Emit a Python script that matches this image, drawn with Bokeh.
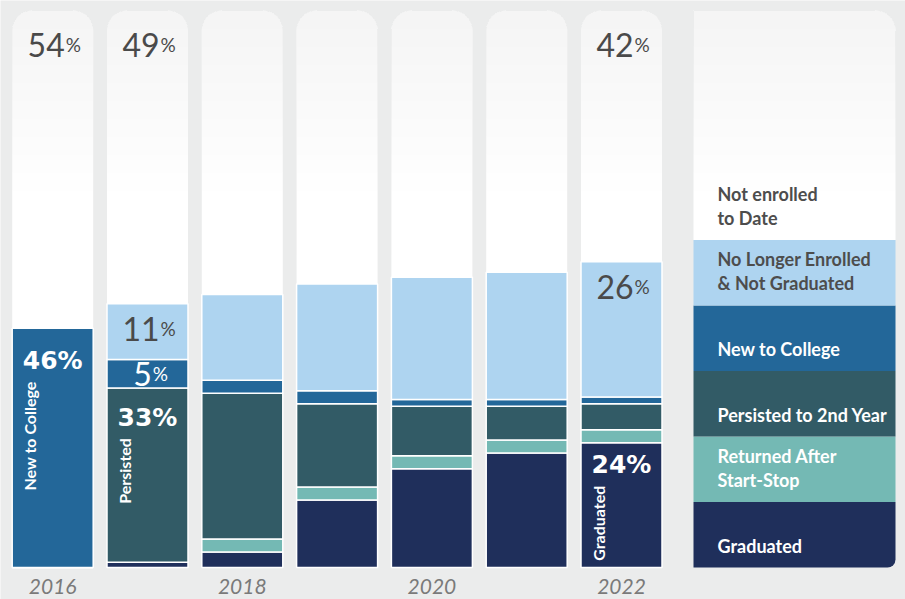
import numpy as np
from bokeh.plotting import figure
from bokeh.models import ColumnDataSource, Range1d
from bokeh.core.properties import value
from bokeh.embed import file_html
from bokeh.resources import INLINE

# ---------------- data (percent of cohort) ----------------
years = ["2016", "2017", "2018", "2019", "2020", "2021", "2022"]
graduated   = [0.0, 1.0, 3.0, 13.0, 19.0, 22.0, 24.0]
returned    = [0.0, 0.0, 2.5, 2.5, 2.5, 2.5, 2.5]
persisted   = [0.0, 33.5, 28.0, 16.0, 9.5, 6.5, 5.0]
new_college = [46.0, 5.5, 2.5, 2.5, 1.3, 1.3, 1.3]
no_longer   = [0.0, 10.7, 16.5, 20.5, 23.5, 24.5, 26.0]

series = ["graduated", "returned", "persisted", "new_college", "no_longer"]
legend_labels = ["Graduated", "Returned After\nStart-Stop", "Persisted to 2nd Year",
                 "New to College", "No Longer Enrolled\n& Not Graduated"]
not_enrolled_label = "Not enrolled\nto Date"
year_ticks = ["2016", "2018", "2020", "2022"]

# annotations shown on the chart
top_label_years = ["2016", "2017", "2022"]
top_label_vals = ["54", "49", "42"]
thin_label_years = ["2017", "2017", "2022"]
thin_label_series = ["no_longer", "new_college", "no_longer"]
thin_label_vals = ["11", "5", "26"]
bold_label_years = ["2016", "2017", "2022"]
bold_label_series = ["new_college", "persisted", "graduated"]
bold_label_vals = ["46%", "33%", "24%"]
bold_label_names = ["New to College", "Persisted", "Graduated"]

# ---------------- styling ----------------
colors = ["#1f2f5b", "#74b9b4", "#325b66", "#236799", "#aed4f0"]
legend_text_colors = ["white", "white", "white", "white", "#4d4d4d"]
BG = "#ebecec"
FONT = "Lato"
bold_dy_px = [32, 29, 22]     # label offset below the segment top
rot_dy_px = [53, 50, 43]      # rotated-name offset below the segment top

W, H = 905, 599
PX_Y = 5.2      # px per percent
PX_X = 94.8     # px per bar slot
BASE = 567      # baseline pixel row
x_start = -52.2 / PX_X
y_start = -(H - BASE) / PX_Y
y_end = BASE / PX_Y
TOP = (BASE - 10) / PX_Y
BW = 81 / PX_X

def dx(px):
    return px / PX_X

def dy(px):
    return px / PX_Y

p = figure(width=W, height=H, x_range=Range1d(x_start, x_start + W / PX_X),
           y_range=Range1d(y_start, y_end), output_backend="svg",
           toolbar_location=None, min_border=0,
           x_axis_location=None, y_axis_location=None)
p.grid.visible = False
p.outline_line_color = None
p.background_fill_color = BG
p.border_fill_color = BG

xs = list(range(len(years)))
data = dict(x=xs, graduated=graduated, returned=returned, persisted=persisted,
            new_college=new_college, no_longer=no_longer)
src = ColumnDataSource(data)

N_SHADE = 10
SHADE = "#8c8c8c"
# white "not enrolled" columns (full height, rounded top)
p.vbar(x=xs, bottom=0, top=TOP, width=BW, fill_color="white", line_color=None,
       border_radius=(20, 20, 0, 0))
for k in range(N_SHADE):
    p.vbar(x=xs, bottom=TOP - dy(18 * (k + 1)), top=TOP, width=BW,
           fill_color=SHADE, fill_alpha=0.006, line_color=None,
           border_radius=(20, 20, 0, 0))

# stacked segments
p.vbar_stack(series, x="x", width=BW, fill_color=colors, line_color="white",
             line_width=1.5, source=src)

# cumulative positions
arr = np.array([graduated, returned, persisted, new_college, no_longer])
tops = np.cumsum(arr, axis=0)
bottoms = tops - arr

def seg(year, s):
    i = years.index(year)
    k = series.index(s)
    return i, bottoms[k, i], tops[k, i]

# ---------------- thin percent labels ----------------
DIG = 15.5
PCT = 14.0
def split_x(i, nd):
    return i + dx(3.5 + (nd * DIG - PCT) / 2)

tx, ty, tt = [], [], []
for yr, v in zip(top_label_years, top_label_vals):
    i = years.index(yr)
    tx.append(split_x(i, len(v)))
    ty.append(TOP - dy(34))
    tt.append(v)
tcol = ["#4a4a4a"] * len(tt)
for yr, s, v in zip(thin_label_years, thin_label_series, thin_label_vals):
    i, b, t = seg(yr, s)
    base_px = min(35, (t - b) * PX_Y / 2 + 10)
    tx.append(split_x(i, len(v)))
    ty.append(t - dy(base_px - 10))
    tt.append(v)
    tcol.append("white" if s == "new_college" else "#4a4a4a")

p.text(x=tx, y=ty, text=tt, text_align="right", text_baseline="alphabetic",
       text_font=value(FONT), text_font_size="32px", text_color=tcol)
p.text(x=[v + dx(1) for v in tx], y=ty, text=["%"] * len(tt), text_align="left",
       text_baseline="alphabetic", text_font=value(FONT), text_font_size="19px",
       text_color=tcol)

# ---------------- bold labels with rotated names ----------------
bx, by, rx, ry = [], [], [], []
for yr, s, bo, ro in zip(bold_label_years, bold_label_series, bold_dy_px, rot_dy_px):
    i, b, t = seg(yr, s)
    bx.append(i)
    by.append(t - dy(bo))
    rx.append(i - dx(23))
    ry.append(t - dy(ro))
p.text(x=bx, y=by, text=bold_label_vals, text_align="center", text_baseline="alphabetic",
       text_font=value("DejaVu Sans"), text_font_style="bold", text_font_size="25px",
       text_color="white")
p.text(x=rx, y=ry, text=bold_label_names, angle=np.pi / 2, text_align="right",
       text_baseline="middle", text_font=value(FONT), text_font_style="bold",
       text_font_size="16px", text_color="white")

# ---------------- year labels ----------------
p.text(x=[years.index(y) for y in year_ticks], y=-dy(586 - BASE), text=year_ticks,
       text_align="center", text_baseline="middle", text_font=value(FONT),
       text_font_style="italic", text_font_size="21px", text_color="#7a7a7a")

# ---------------- legend column ----------------
LX0 = (693 - 52.2) / PX_X
LX1 = (895 - 52.2) / PX_X
SLOT = dy(65.5)
n = len(series)
p.quad(left=LX0, right=LX1, bottom=n * SLOT, top=TOP, fill_color="white",
       line_color=None, border_radius=(0, 20, 0, 0))
for k in range(N_SHADE):
    p.quad(left=LX0, right=LX1, bottom=TOP - dy(18 * (k + 1)), top=TOP,
           fill_color=SHADE, fill_alpha=0.006, line_color=None,
           border_radius=(0, 20, 0, 0))
p.quad(left=[LX0] * (n - 2), right=[LX1] * (n - 2),
       bottom=[k * SLOT for k in range(1, n - 1)],
       top=[(k + 1) * SLOT for k in range(1, n - 1)],
       fill_color=colors[1:n - 1], line_color=None)
p.quad(left=LX0, right=LX1, bottom=(n - 1) * SLOT, top=n * SLOT,
       fill_color=colors[n - 1], line_color=None)
p.quad(left=LX0, right=LX1, bottom=0, top=SLOT, fill_color=colors[0],
       line_color=None, border_radius=(0, 0, 8, 0))

LTX = (717 - 52.2) / PX_X
lab_all = legend_labels + [not_enrolled_label]
lab_col = legend_text_colors + ["#4d4d4d"]
p.text(x=[LTX] * len(lab_all), y=[k * SLOT + dy(11) for k in range(len(lab_all))],
       text=lab_all, text_align="left", text_baseline="bottom",
       text_font=value(FONT), text_font_style="bold", text_font_size="18px",
       text_line_height=1.1, text_color=lab_col)

open("out.html", "w").write(file_html(p, INLINE))
